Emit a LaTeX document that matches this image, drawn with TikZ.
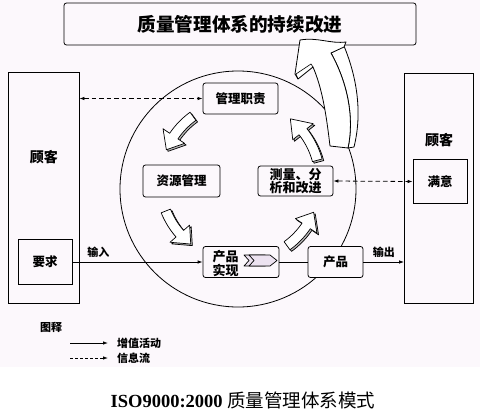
\documentclass[tikz,border=0pt]{standalone}
\usepackage{fontspec}
\setmainfont{Liberation Serif}
\newfontfamily\cjk{Noto Sans CJK SC}
\usetikzlibrary{arrows.meta}
\definecolor{paper}{RGB}{252,248,252}
\definecolor{chev}{RGB}{236,226,240}

% hollow arrow bent round the inner ring, from angle #1 to angle #2
\newcommand\ringarrow[2]{%
  \pgfmathsetmacro\hb{#2+(#1-#2)*0.36}%
  \foreach \sh/\col in {{(1.6,1.6)}/gray!55,{(0,0)}/white}{
    \draw[ringarr,fill=\col,shift=\sh] ([shift={(ring)}]#1:85) arc[start angle=#1,end angle=\hb,radius=85]
      -- ([shift={(ring)}]\hb:93) -- ([shift={(ring)}]#2:80) -- ([shift={(ring)}]\hb:67)
      -- ([shift={(ring)}]\hb:75) arc[start angle=\hb,end angle=#1,radius=75] -- cycle;}}

\begin{document}
\begin{tikzpicture}[x=1pt,y=-1pt,
    box/.style={draw,thick,fill=paper,rounded corners=2.5pt,inner sep=0pt,align=center,
      font=\cjk\bfseries\fontsize{12.5}{13.5}\selectfont},
    sqbox/.style={draw,thick,fill=paper,inner sep=0pt,font=\cjk\bfseries\fontsize{12.5}{13.5}\selectfont},
    txt/.style={inner sep=0pt,font=\cjk\bfseries\fontsize{11}{12}\selectfont},
    flow/.style={thick,-{Latex[length=5pt,width=3.5pt]}},
    info/.style={thick,dash pattern=on 4.5pt off 3pt,{Latex[length=5pt,width=3.5pt]}-{Latex[length=5pt,width=3.5pt]}},
    ringarr/.style={line width=0.7pt,line join=round}]
  \useasboundingbox (0,0) rectangle (480,413);
  \fill[white] (0,0) rectangle (480,413);
  \fill[paper] (0,0) rectangle (480,367);

  % title
  \node[box,minimum width=352pt,minimum height=42pt,font=\cjk\bfseries\fontsize{18.6}{20}\selectfont] (kaizen) at (240,24) {质量管理体系的持续改进};

  % customers
  \node[draw,thick,minimum width=71pt,minimum height=231pt,inner sep=0pt] (custL) at (43.5,187.5) {};
  \node[txt,font=\cjk\bfseries\fontsize{14}{15}\selectfont] (custLtxt) at (44,157) {顾客};
  \node[sqbox,minimum width=54pt,minimum height=45pt] (req) at (45,262) {要求};
  \node[draw,thick,minimum width=69pt,minimum height=230pt,inner sep=0pt] (custR) at (439,188) {};
  \node[txt,font=\cjk\bfseries\fontsize{14}{15}\selectfont] (custRtxt) at (439,140) {顾客};
  \node[sqbox,minimum width=54pt,minimum height=44pt] (sat) at (440,181.5) {满意};

  % ring
  \coordinate (ring) at (240,181);
  \draw[thick] (238,189) circle[radius=118];

  % arrow up to the title
  \draw[line width=0.8pt,fill=white,line join=round] (344,46) .. controls (358,80) and (362,115) .. (354,147)
    -- (348,148) .. controls (355,115) and (346,80) .. (331,53) -- cycle;
  \draw[line width=0.8pt,fill=white,line join=round] (330,146) .. controls (326,112) and (322,88) .. (313,67)
    -- (298,79) -- (295,74) -- (300,40) .. controls (318,37) and (330,44) .. (346,42) -- (344,47)
    -- (331,53) .. controls (346,80) and (355,115) .. (348,148) -- cycle;
  \draw[line width=0.6pt] (298,79) -- (296,74) -- (311,64) -- (313,67);

  \node[box,minimum width=75pt,minimum height=31pt] (mgmt) at (240.5,98.5) {管理职责};
  \node[box,minimum width=77pt,minimum height=32pt] (res) at (181.5,181) {资源管理};
  \node[box,minimum width=75pt,minimum height=30pt,font=\cjk\bfseries\fontsize{13}{13.5}\selectfont] (meas) at (295.5,181) {测量、分\\析和改进};
  \node[box,minimum width=76pt,minimum height=31pt] (real) at (241,262) {};
  \node[txt,align=center,font=\cjk\bfseries\fontsize{13}{13.5}\selectfont] (realtxt) at (225.5,263.5) {产品\\实现};
  \node[box,minimum width=55pt,minimum height=31pt] (prod) at (335.5,262) {产品};

  % chevrons in the realisation box
  \foreach \dx in {-5,0}
    \draw[line width=0.7pt,fill=chev,line join=round,xshift=\dx] (249,255) -- (270,255) -- (277,260.5)
      -- (270,266) -- (249,266) -- (254,260.5) -- cycle;

  % the four ring arrows
  \ringarrow{234}{203}
  \ringarrow{158}{128}
  \ringarrow{54}{23}
  \ringarrow{-15}{-51}

  % flows
  \draw[info] (custL.east |- mgmt.west) -- (mgmt.west);
  \draw[info] (meas.east) -- (sat.west);
  \draw[flow] (req.east) -- node[txt,above=4pt,pos=0.2] (inlbl) {输入} (real.west);
  \draw[thick] (real.east) -- (prod.west);
  \draw[flow] (prod.east) -- node[txt,above=4pt,pos=0.5] (outlbl) {输出} (custR.west |- prod.east);

  % legend
  \node[txt] (keytxt) at (51,327) {图释};
  \coordinate (k1a) at (70,343);
  \coordinate (k1b) at (108,343);
  \coordinate (k2a) at (70,358);
  \coordinate (k2b) at (108,358);
  \draw[thick,-{Latex[length=5pt,width=3.5pt]}] (k1a) -- (k1b);
  \draw[thick,dash pattern=on 3pt off 2pt,-{Latex[length=5pt,width=3.5pt]}] (k2a) -- (k2b);
  \node[txt,anchor=west] (k1txt) at (117,343) {增值活动};
  \node[txt,anchor=west] (k2txt) at (117,358) {信息流};

  % caption
  \node[inner sep=0pt,font=\fontsize{18.5}{20}\selectfont] (caption) at (243,400) {\textbf{ISO9000:2000} {\cjk 质量管理体系模式}};
\end{tikzpicture}
\end{document}
